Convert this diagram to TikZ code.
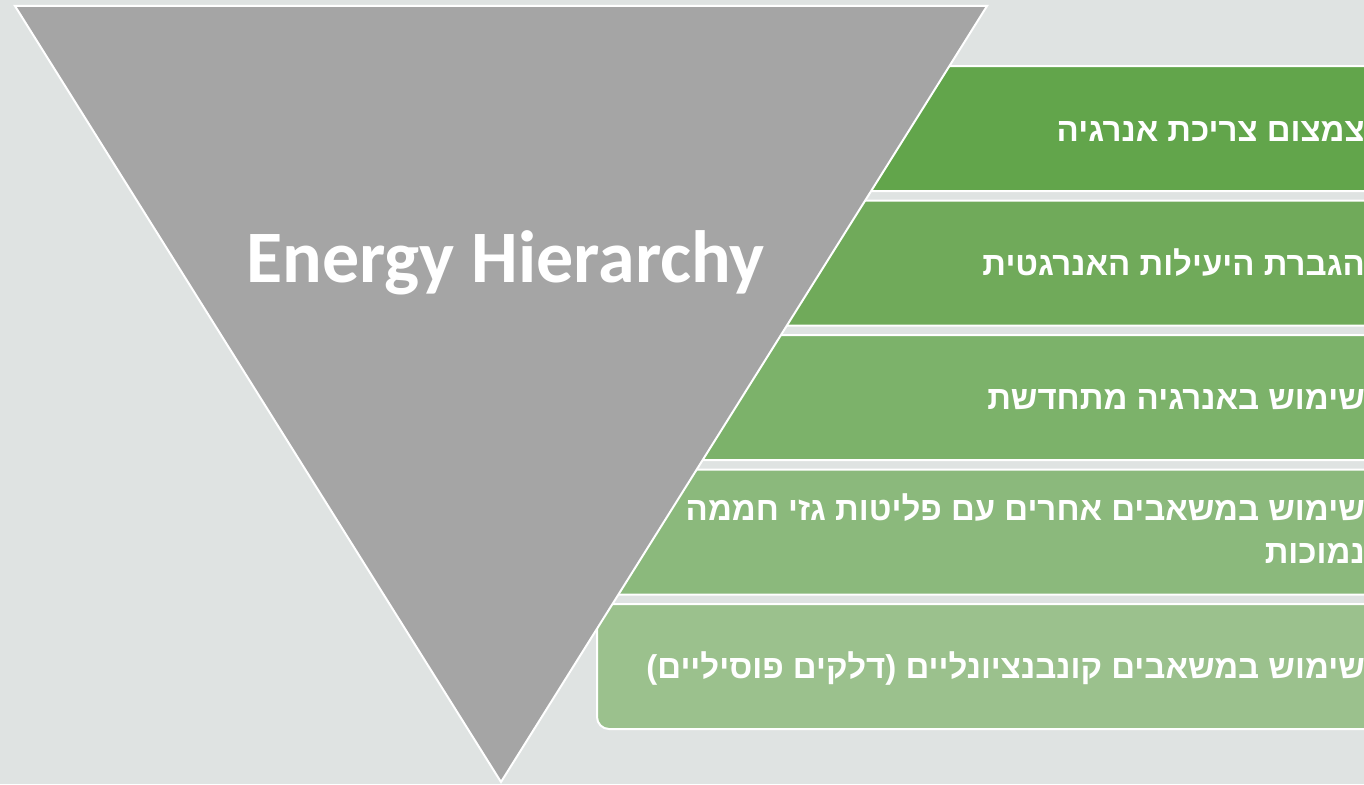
\documentclass[tikz,border=0pt]{standalone}
\usepackage{fontspec}
\setmainfont{Liberation Sans}
\newfontfamily\hebfont[Script=Hebrew]{Liberation Sans}
\newfontfamily\titlefont{Carlito}
\TeXXeTstate=1
\definecolor{pagebg}{HTML}{DFE3E2}
\definecolor{tri}{HTML}{A5A5A5}
\definecolor{lvA}{HTML}{62A54B}
\definecolor{lvB}{HTML}{70AA5A}
\definecolor{lvC}{HTML}{7CB26A}
\definecolor{lvD}{HTML}{8BB97C}
\definecolor{lvE}{HTML}{9BC18D}
\tikzset{
  level/.style={draw=white, line width=2pt, rounded corners=12pt, anchor=north west,
    minimum width=800pt, minimum height=125pt, inner sep=0pt},
  heb/.style={text=white, anchor=base east, inner sep=0pt,
    font=\hebfont\bfseries\fontsize{33}{43}\selectfont, align=right},
}
\begin{document}
\begin{tikzpicture}[x=1pt,y=-1pt]
\useasboundingbox (0,0) rectangle (1364,784);
\fill[pagebg] (0,0) rectangle (1364,784);
\clip (0,0) rectangle (1364,784);

% stacked levels
\node[level, fill=lvA] (l1) at (596,65) {};
\node[level, fill=lvB] (l2) at (596,199.5) {};
\node[level, fill=lvC] (l3) at (596,334) {};
\node[level, fill=lvD] (l4) at (596,468.5) {};
\node[level, fill=lvE] (l5) at (596,603) {};

% level labels
\node[heb] (t1) at (1365,141) {\beginR צמצום צריכת אנרגיה\endR};
\node[heb] (t2) at (1365,275) {\beginR הגברת היעילות האנרגטית\endR};
\node[heb] (t3) at (1365,409) {\beginR שימוש באנרגיה מתחדשת\endR};
\node[heb] (t4) at (1365,520) {\beginR שימוש במשאבים אחרים עם פליטות גזי חממה\endR};
\node[heb] (t4b) at (1365,563) {\beginR נמוכות\endR};
\node[heb] (t5) at (1365,678) {\beginR שימוש במשאבים קונבנציונליים (דלקים פוסיליים)\endR};

% inverted triangle
\draw[fill=tri, draw=white, line width=2pt, line join=miter]
  (15,6) -- (987,6) -- (501,782) -- cycle;
\node[text=white, anchor=base, inner sep=0pt, font=\titlefont\bfseries\fontsize{74}{80}\selectfont]
  (title) at (505.5,282) {Energy Hierarchy};
\end{tikzpicture}
\end{document}
